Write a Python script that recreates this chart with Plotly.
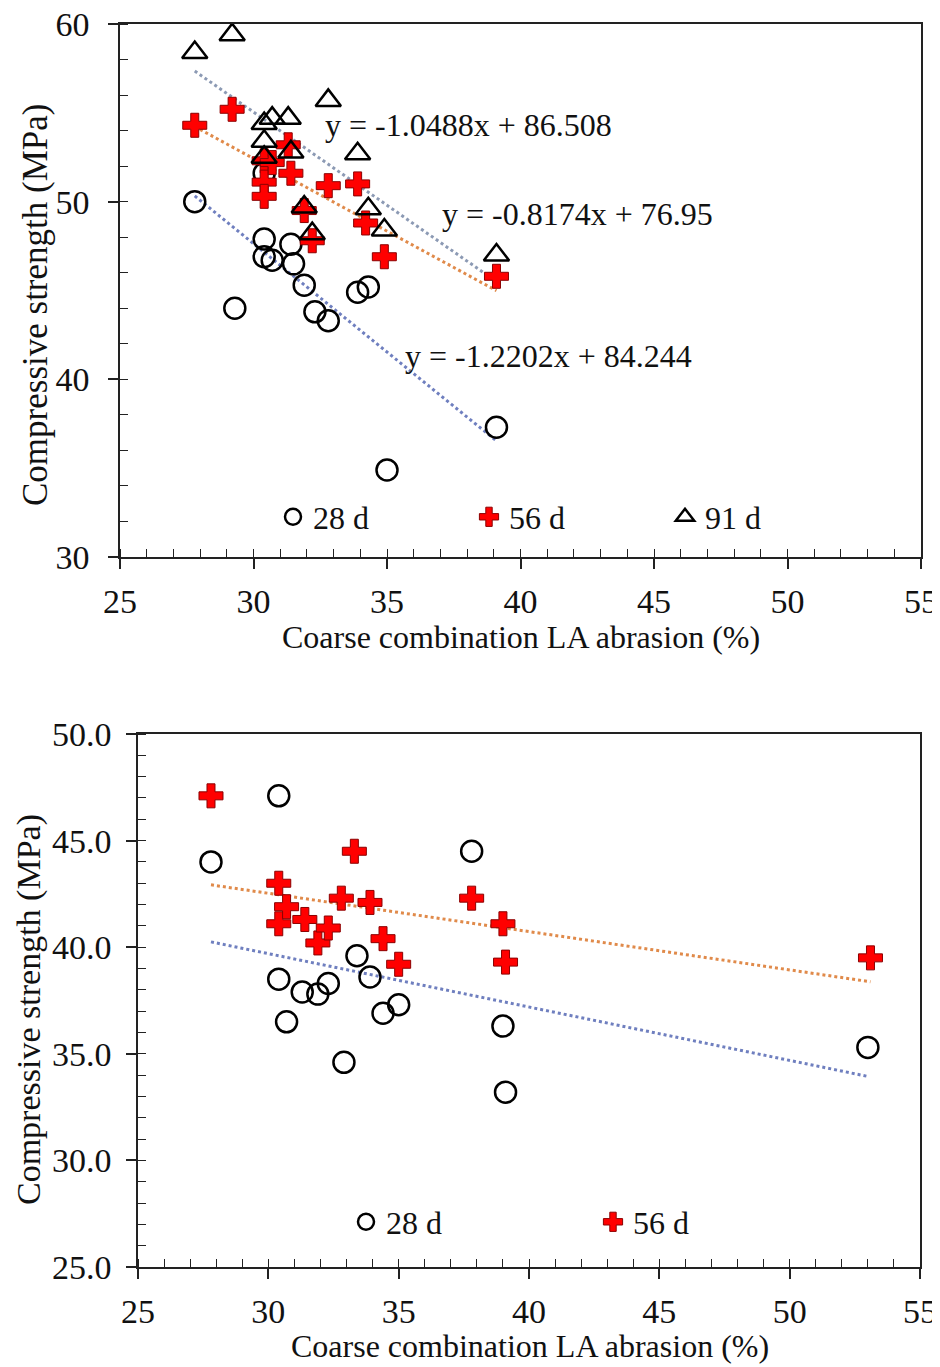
import plotly.graph_objects as go

# ---- data (top panel) ----
x_28 = [27.8, 29.3, 30.4, 30.4, 30.4, 30.7, 31.4, 31.5, 31.9, 32.3, 32.8, 33.9, 34.3, 35.0, 39.1]
y_28 = [50.0, 44.0, 51.6, 47.9, 46.9, 46.7, 47.6, 46.5, 45.3, 43.8, 43.3, 44.9, 45.2, 34.9, 37.3]

x_56 = [27.8, 29.2, 30.4, 30.4, 30.4, 30.7, 31.3, 31.4, 31.9, 32.2, 32.8, 33.9, 34.2, 34.9, 39.1]
y_56 = [54.3, 55.2, 52.3, 51.1, 50.3, 52.2, 53.2, 51.6, 49.5, 47.8, 50.9, 51.0, 48.8, 46.9, 45.8]

x_91 = [27.8, 29.2, 30.4, 30.4, 30.4, 30.7, 31.3, 31.4, 31.9, 32.2, 32.8, 33.9, 34.3, 34.9, 39.1]
y_91 = [58.4, 59.4, 54.4, 53.4, 52.5, 54.7, 54.7, 52.8, 49.7, 48.2, 55.7, 52.7, 49.6, 48.4, 47.0]

# printed trendline equations (28 d, 56 d, 91 d)
slopes_top = [-1.2202, -0.8174, -1.0488]
intercepts_top = [84.244, 76.95, 86.508]

# ---- bottom panel ----
xb_28 = [27.8, 30.4, 30.4, 30.7, 31.3, 31.9, 32.3, 32.9, 33.4, 33.9, 34.4, 35.0, 37.8, 39.0, 39.1, 53.0]
yb_28 = [44.0, 47.1, 38.5, 36.5, 37.9, 37.8, 38.3, 34.6, 39.6, 38.6, 36.9, 37.3, 44.5, 36.3, 33.2, 35.3]

xb_56 = [27.8, 30.4, 30.4, 30.7, 31.4, 31.9, 32.3, 32.8, 33.3, 33.9, 34.4, 35.0, 37.8, 39.0, 39.1, 53.1]
yb_56 = [47.1, 43.0, 41.1, 41.9, 41.3, 40.2, 40.9, 42.3, 44.5, 42.1, 40.4, 39.2, 42.3, 41.1, 39.3, 39.5]

# trendlines (no equation printed)
slopes_bot = [-0.2504, -0.1797]
intercepts_bot = [47.21, 47.92]

age_labels = ['28 d', '56 d', '91 d']

FONT = 'Liberation Serif'
PAGE_OFF = 8  # default body margin of the html page
W, H = 940 - PAGE_OFF, 1367 - PAGE_OFF
BLUE = '#6F7FBF'
ORANGE = '#E08A4A'
GREY = '#8C9AB4'


def px_x(p):
    return (p - PAGE_OFF) / W


def px_y(p):
    return 1 - (p - PAGE_OFF) / H


circle = dict(symbol='circle-open', size=21, color='black', line=dict(width=2.5, color='black'))
plus = dict(symbol='cross', size=20, color='#FF0000', line=dict(width=1, color='#8B0000'))
tri = dict(symbol='triangle-up-open', size=22, color='black', line=dict(width=2.5, color='black'))

fig = go.Figure()


def trend(xs, m, b, color, xa, ya):
    x0, x1 = min(xs), max(xs)
    return go.Scatter(x=[x0, x1], y=[m * x0 + b, m * x1 + b], mode='lines',
                      line=dict(color=color, width=3, dash='dot'),
                      showlegend=False, xaxis=xa, yaxis=ya, hoverinfo='skip')


# top trendlines
fig.add_trace(trend(x_28, slopes_top[0], intercepts_top[0], BLUE, 'x', 'y'))
fig.add_trace(trend(x_56, slopes_top[1], intercepts_top[1], ORANGE, 'x', 'y'))
fig.add_trace(trend(x_91, slopes_top[2], intercepts_top[2], GREY, 'x', 'y'))

fig.add_trace(go.Scatter(x=x_28, y=y_28, mode='markers', marker=circle, name=age_labels[0],
                         xaxis='x', yaxis='y', legend='legend'))
fig.add_trace(go.Scatter(x=x_56, y=y_56, mode='markers', marker=plus, name=age_labels[1],
                         xaxis='x', yaxis='y', legend='legend'))
fig.add_trace(go.Scatter(x=x_91, y=y_91, mode='markers', marker=tri, name=age_labels[2],
                         xaxis='x', yaxis='y', legend='legend'))

# bottom trendlines
fig.add_trace(trend(xb_28, slopes_bot[0], intercepts_bot[0], BLUE, 'x2', 'y2'))
fig.add_trace(trend(xb_56, slopes_bot[1], intercepts_bot[1], ORANGE, 'x2', 'y2'))

fig.add_trace(go.Scatter(x=xb_28, y=yb_28, mode='markers', marker=circle, name=age_labels[0],
                         xaxis='x2', yaxis='y2', legend='legend2'))
fig.add_trace(go.Scatter(x=xb_56, y=yb_56, mode='markers', marker=plus, name=age_labels[1],
                         xaxis='x2', yaxis='y2', legend='legend2'))

# equation labels (top panel)
eq_pos = [(35.6, 41.3), (37.0, 49.3), (32.6, 54.3)]
for (ex, ey), m, b in zip(eq_pos, slopes_top, intercepts_top):
    fig.add_annotation(x=ex, y=ey, xref='x', yref='y', xanchor='left', yanchor='middle',
                       text=f'y = {m}x + {b}', showarrow=False,
                       font=dict(family=FONT, size=32, color='#111'))

# axis titles placed as paper annotations
title_x = 'Coarse combination LA abrasion (%)'
title_y = 'Compressive strength (MPa)'
for cx, cy in [(521, 637), (530, 1346)]:
    fig.add_annotation(x=px_x(cx), y=px_y(cy), xref='paper', yref='paper', xanchor='center',
                       yanchor='middle', text=title_x, showarrow=False,
                       font=dict(family=FONT, size=32, color='#111'))
for cx, cy, fs in [(35, 305, 35), (29, 1010, 34)]:
    fig.add_annotation(x=px_x(cx), y=px_y(cy), xref='paper', yref='paper', xanchor='center',
                       yanchor='middle', text=title_y, textangle=-90, showarrow=False,
                       font=dict(family=FONT, size=fs, color='#111'))

axis_common = dict(showgrid=False, zeroline=False, showline=True, linecolor='#222', linewidth=1.5,
                   mirror=True, ticks='outside', ticklen=10, tickwidth=1.5, tickcolor='#222',
                   tickfont=dict(family=FONT, size=34, color='#111'), automargin=False,
                   ticklabeloverflow='allow')

xdom_top = [px_x(120), px_x(921)]
ydom_top = [px_y(557), px_y(24)]
xdom_bot = [px_x(138), px_x(920)]
ydom_bot = [px_y(1267), px_y(734)]

minor_x = dict(ticks='inside', dtick=1, ticklen=8, tickwidth=1.2, tickcolor='#222')


def overlay(base, anchor, side, rng, dt):
    return dict(overlaying=base, anchor=anchor, side=side, range=rng, dtick=dt, ticks='inside',
                ticklen=12, tickwidth=1.5, tickcolor='#222', showticklabels=False, showline=False,
                showgrid=False, zeroline=False)


fig.update_layout(
    width=W, height=H,
    margin=dict(l=0, r=0, t=0, b=0),
    paper_bgcolor='white', plot_bgcolor='white',
    font=dict(family=FONT, color='#111'),
    xaxis=dict(axis_common, domain=xdom_top, anchor='y', range=[25, 55], dtick=5,
               minor=minor_x, ticklabelstandoff=3),
    yaxis=dict(axis_common, domain=ydom_top, anchor='x', range=[30, 60], dtick=10,
               minor=dict(minor_x, dtick=2), ticklabelstandoff=12),
    xaxis2=dict(axis_common, domain=xdom_bot, anchor='y2', range=[25, 55], dtick=5,
                minor=minor_x, ticklabelstandoff=3),
    yaxis2=dict(axis_common, domain=ydom_bot, anchor='x2', range=[25, 50], dtick=5,
                tickformat='.1f', minor=minor_x, ticklabelstandoff=8),
    # overlay axes drawing the inner half of the crossing major ticks
    xaxis3=overlay('x', 'y', 'bottom', [25, 55], 5),
    yaxis3=overlay('y', 'x', 'left', [30, 60], 10),
    xaxis4=overlay('x2', 'y2', 'bottom', [25, 55], 5),
    yaxis4=overlay('y2', 'x2', 'left', [25, 50], 5),
    legend=dict(orientation='h', x=px_x(273), y=px_y(517), xanchor='left', yanchor='middle',
                entrywidth=151, bgcolor='rgba(0,0,0,0)', font=dict(family=FONT, size=32),
                itemclick=False),
    legend2=dict(orientation='h', x=px_x(346), y=px_y(1222), xanchor='left', yanchor='middle',
                 entrywidth=202, bgcolor='rgba(0,0,0,0)', font=dict(family=FONT, size=32),
                 itemclick=False),
    showlegend=True,
)

fig.write_html('out.html')
